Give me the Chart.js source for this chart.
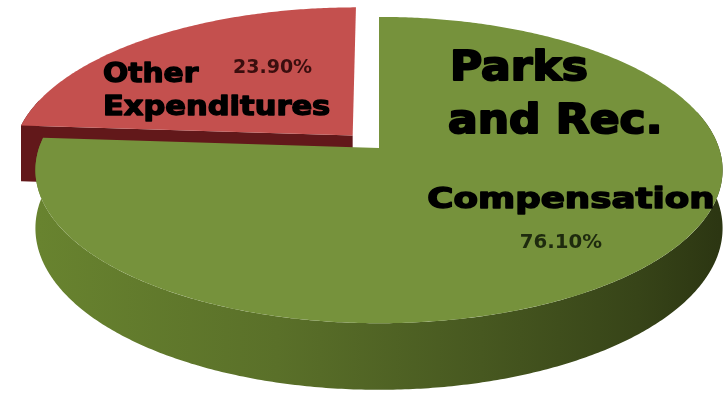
<!DOCTYPE html>
<html lang="en">
<head>
  <meta charset="UTF-8" />
  <title>Parks and Rec. budget</title>
  <script src="https://cdn.jsdelivr.net/npm/chart.js"></script>
  <style>
    body {
      margin: 0;
      padding: 0;
      background: #fff;
    }
    canvas {
      display: block;
    }
  </style>
</head>
<body>
<canvas id="pie" width="728" height="396"></canvas>
<script>
// department split, in percent
const categories = ['Compensation', 'Other Expenditures'];
const shares = [76.1, 23.9];
const titleLines = ['Parks', 'and Rec.'];
const pulledOut = [0, 74];

const topColors = ['#76923c', '#c4504e'];
const wallColors = ['#5a7029', '#62181a'];

// fake 3D: unit circle -> tilted disc with a bit of perspective
const view = { cx: 379, cy: 148, rx: 340, ry: 150, persp: 0.144, depth: 57 };

function project(u, v, h) {
  const k = 1 - view.persp * v;
  return [view.cx + view.rx * u / k, view.cy + (view.ry * v + view.depth * h) / k];
}

function sliceOf(arc) {
  const p = arc.getProps(['startAngle', 'endAngle', 'outerRadius'], true);
  const mid = (p.startAngle + p.endAngle) / 2;
  const push = (arc.options.offset || 0) / 4 / p.outerRadius;
  return { a0: p.startAngle, a1: p.endAngle, mid, ox: Math.cos(mid) * push, oy: Math.sin(mid) * push };
}

function rim(s, a, h) {
  return project(s.ox + Math.cos(a), s.oy + Math.sin(a), h);
}

function arcPoints(s, from, to, h) {
  const n = Math.max(2, Math.ceil(Math.abs(to - from) / 0.01));
  const pts = [];
  for (let i = 0; i <= n; i++) pts.push(rim(s, from + (to - from) * i / n, h));
  return pts;
}

function fillPoly(ctx, pts, fill) {
  ctx.beginPath();
  pts.forEach((p, i) => i ? ctx.lineTo(p[0], p[1]) : ctx.moveTo(p[0], p[1]));
  ctx.closePath();
  ctx.fillStyle = fill;
  ctx.fill();
}

function wallFill(ctx, i) {
  if (i !== 0) return wallColors[i];
  const g = ctx.createLinearGradient(view.cx - view.rx, 0, view.cx + view.rx, 0);
  g.addColorStop(0, '#68832f');
  g.addColorStop(0.35, '#5a7029');
  g.addColorStop(0.65, '#475820');
  g.addColorStop(0.88, '#374418');
  g.addColorStop(1, '#2c3612');
  return g;
}

function drawSlice(ctx, s, i) {
  const wall = wallFill(ctx, i);
  const centerTop = project(s.ox, s.oy, 0);
  const centerBottom = project(s.ox, s.oy, 1);

  // outer wall, only the part facing us
  for (const k of [-1, 0, 1]) {
    const from = Math.max(s.a0, -0.25 + k * 2 * Math.PI);
    const to = Math.min(s.a1, Math.PI + 0.25 + k * 2 * Math.PI);
    if (to > from) {
      fillPoly(ctx, arcPoints(s, from, to, 0).concat(arcPoints(s, to, from, 1)), wall);
    }
  }

  // cut faces
  if (Math.cos(s.a0) < 0) {
    fillPoly(ctx, [centerTop, rim(s, s.a0, 0), rim(s, s.a0, 1), centerBottom], wallColors[i]);
  }
  if (Math.cos(s.a1) > 0) {
    fillPoly(ctx, [centerTop, rim(s, s.a1, 0), rim(s, s.a1, 1), centerBottom], wallColors[i]);
  }

  // top
  fillPoly(ctx, [centerTop].concat(arcPoints(s, s.a0, s.a1, 0)), topColors[i]);
}

const pie3d = {
  id: 'pie3d',
  beforeDatasetsDraw(chart) {
    const ctx = chart.ctx;
    const slices = chart.getDatasetMeta(0).data.map((arc, i) => ({ s: sliceOf(arc), i }));
    slices.sort((a, b) => Math.sin(a.s.mid) - Math.sin(b.s.mid));
    ctx.save();
    slices.forEach(({ s, i }) => drawSlice(ctx, s, i));
    ctx.restore();
    return false;
  },
  afterDraw(chart) {
    const ctx = chart.ctx;
    const pct = i => shares[i].toFixed(2) + '%';
    const big = 'bold 40px "DejaVu Sans"';
    text(ctx, titleLines[0], 450, 80, big, '#000', 1.1, 'left', 2);
    text(ctx, titleLines[1], 448, 133, big, '#000', 1.1, 'left', 2);

    text(ctx, categories[0], 571, 208, 'bold 29px "DejaVu Sans"', '#000', 1.23, 'center', 1.5);
    text(ctx, pct(0), 561, 248, 'bold 19px "DejaVu Sans"', '#1e2a0e', 1.04, 'center', 0);

    const words = categories[1].split(' ');
    text(ctx, words[0], 103, 82, 'bold 27px "DejaVu Sans"', '#000', 1.1, 'left', 1.4);
    text(ctx, words[1], 103, 115, 'bold 27px "DejaVu Sans"', '#000', 1.13, 'left', 1.4);
    text(ctx, pct(1), 233, 73, 'bold 19px "DejaVu Sans"', '#3a0e0e', 1.0, 'left', 0);
  }
};

// stretched, optionally thickened label text
function text(ctx, str, x, y, font, color, stretch, align, heavy) {
  ctx.save();
  ctx.font = font;
  ctx.fillStyle = color;
  ctx.strokeStyle = color;
  ctx.lineJoin = 'round';
  ctx.textAlign = align;
  ctx.textBaseline = 'alphabetic';
  ctx.translate(x, y);
  ctx.scale(stretch, 1);
  ctx.fillText(str, 0, 0);
  if (heavy) {
    ctx.lineWidth = heavy;
    ctx.strokeText(str, 0, 0);
  }
  ctx.restore();
}

new Chart(document.getElementById('pie'), {
  type: 'pie',
  data: {
    labels: categories,
    datasets: [{
      data: shares,
      backgroundColor: topColors,
      borderWidth: 0,
      offset: pulledOut
    }]
  },
  options: {
    responsive: false,
    animation: false,
    events: [],
    layout: { padding: 0 },
    plugins: {
      legend: { display: false },
      tooltip: { enabled: false }
    }
  },
  plugins: [pie3d]
});
</script>
</body>
</html>
